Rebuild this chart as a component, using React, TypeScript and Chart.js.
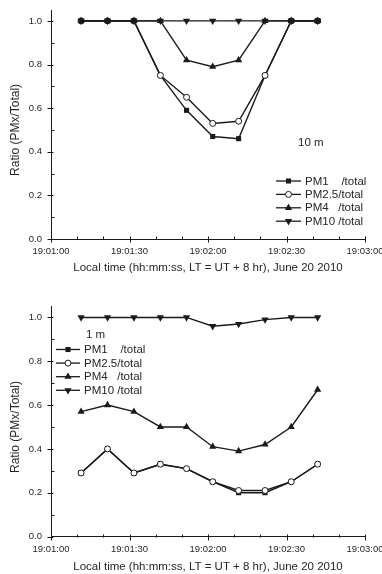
import React, { useEffect, useRef } from 'react';
import { Chart, registerables } from 'chart.js';

Chart.register(...registerables);

// ---------- data ----------
// seconds after 19:01:00 (local time)
const timeSec = [11.5, 21.6, 31.7, 41.8, 51.8, 61.8, 71.7, 81.8, 91.8, 101.9];
const seriesLabels = ['PM1    /total', 'PM2.5/total', 'PM4   /total', 'PM10 /total'];

// 10 m panel
const top_pm1 = [1.0, 1.0, 1.0, 0.75, 0.59, 0.47, 0.46, 0.75, 1.0, 1.0];
const top_pm25 = [1.0, 1.0, 1.0, 0.75, 0.65, 0.53, 0.54, 0.75, 1.0, 1.0];
const top_pm4 = [1.0, 1.0, 1.0, 1.0, 0.82, 0.79, 0.82, 1.0, 1.0, 1.0];
const top_pm10 = [1.0, 1.0, 1.0, 1.0, 1.0, 1.0, 1.0, 1.0, 1.0, 1.0];

// 1 m panel
const bot_pm1 = [0.29, 0.40, 0.29, 0.33, 0.31, 0.25, 0.20, 0.20, 0.25, 0.33];
const bot_pm25 = [0.29, 0.40, 0.29, 0.33, 0.31, 0.25, 0.21, 0.21, 0.25, 0.33];
const bot_pm4 = [0.57, 0.60, 0.57, 0.50, 0.50, 0.41, 0.39, 0.42, 0.50, 0.67];
const bot_pm10 = [1.0, 1.0, 1.0, 1.0, 1.0, 0.96, 0.97, 0.99, 1.0, 1.0];

const xTickValues = [0, 10, 20, 30, 40, 50, 60, 70, 80, 90, 100, 110, 120];
const xMajorStep = 30;
const yTickValues = [0, 0.1, 0.2, 0.3, 0.4, 0.5, 0.6, 0.7, 0.8, 0.9, 1.0];
const yMajorStep = 0.2;
const yTitle = 'Ratio (PMx/Total)';
const xTitle = 'Local time (hh:mm:ss, LT = UT + 8 hr), June 20 2010';
const topNote = '10 m';
const botNote = '1 m';

// ---------- styles ----------
const FONT = '"Liberation Sans", Arial, Helvetica, sans-serif';
const INK = '#1a1a1a';
const TEXT = '#262626';

const markerStyles = [
  { pointStyle: 'rect', pointRadius: 3.6, rotation: 0, fill: INK, borderWidth: 0 },
  { pointStyle: 'circle', pointRadius: 3, rotation: 0, fill: '#ffffff', borderWidth: 1 },
  { pointStyle: 'triangle', pointRadius: 4.2, rotation: 0, fill: INK, borderWidth: 0 },
  { pointStyle: 'triangle', pointRadius: 4.2, rotation: 180, fill: INK, borderWidth: 0 },
];
// lower order is drawn on top: PM10 on top, PM1 at the bottom
const drawOrder = [3, 2, 1, 0];

function fmtTime(v: number): string {
  const total = 19 * 3600 + 60 + Math.round(v);
  const h = Math.floor(total / 3600);
  const m = Math.floor((total % 3600) / 60);
  const s = total % 60;
  const p = (n: number) => String(n).padStart(2, '0');
  return `${p(h)}:${p(m)}:${p(s)}`;
}

function isMultiple(v: number, step: number) {
  const r = v / step;
  return Math.abs(r - Math.round(r)) < 1e-6;
}

function drawMarker(ctx: CanvasRenderingContext2D, ms: any, x: number, y: number) {
  const r = ms.pointRadius;
  ctx.beginPath();
  if (ms.pointStyle === 'rect') {
    const s = r * Math.SQRT1_2;
    ctx.rect(x - s, y - s, 2 * s, 2 * s);
  } else if (ms.pointStyle === 'circle') {
    ctx.arc(x, y, r, 0, Math.PI * 2);
  } else {
    let rad = (ms.rotation * Math.PI) / 180;
    ctx.moveTo(x + Math.sin(rad) * r, y - Math.cos(rad) * r);
    rad += (2 * Math.PI) / 3;
    ctx.lineTo(x + Math.sin(rad) * r, y - Math.cos(rad) * r);
    rad += (2 * Math.PI) / 3;
    ctx.lineTo(x + Math.sin(rad) * r, y - Math.cos(rad) * r);
    ctx.closePath();
  }
  ctx.fillStyle = ms.fill;
  ctx.fill();
  if (ms.borderWidth) {
    ctx.lineWidth = ms.borderWidth;
    ctx.strokeStyle = INK;
    ctx.stroke();
  }
}

const decorPlugin = {
  id: 'decor',
  afterDraw(chart: any, _args: any, opts: any) {
    const { ctx, chartArea } = chart;
    const xs = chart.scales.x;
    const ys = chart.scales.y;
    ctx.save();
    ctx.strokeStyle = INK;
    ctx.lineWidth = 1;
    // x ticks: major ticks cross the axis, minor ticks point inward
    const yb = Math.round(chartArea.bottom) + 0.5;
    for (const v of xTickValues) {
      const px = Math.round(xs.getPixelForValue(v)) + 0.5;
      const major = isMultiple(v, xMajorStep);
      ctx.beginPath();
      ctx.moveTo(px, yb + (major ? 3 : 0));
      ctx.lineTo(px, yb - 3);
      ctx.stroke();
    }
    // y ticks
    const xl = Math.round(chartArea.left) + 0.5;
    for (const v of yTickValues) {
      const py = Math.round(ys.getPixelForValue(v)) + 0.5;
      const major = isMultiple(v, yMajorStep);
      ctx.beginPath();
      ctx.moveTo(xl - (major ? 4 : 0), py);
      ctx.lineTo(xl + (major ? 2 : 3), py);
      ctx.stroke();
    }
    // y title
    ctx.save();
    ctx.translate(opts.yTitleX, ys.getPixelForValue(0.5));
    ctx.rotate(-Math.PI / 2);
    ctx.fillStyle = TEXT;
    ctx.font = `12px ${FONT}`;
    ctx.textAlign = 'center';
    ctx.textBaseline = 'middle';
    ctx.fillText(yTitle, 0, 0);
    ctx.restore();
    // legend
    const lg = opts.legend;
    ctx.font = `11.5px ${FONT}`;
    ctx.textBaseline = 'middle';
    ctx.textAlign = 'left';
    chart.data.datasets.forEach((ds: any, i: number) => {
      const y = lg.y + i * lg.rowH;
      ctx.strokeStyle = INK;
      ctx.lineWidth = 1.3;
      ctx.beginPath();
      ctx.moveTo(lg.x, y);
      ctx.lineTo(lg.x + lg.lineLen, y);
      ctx.stroke();
      drawMarker(ctx, markerStyles[i], lg.x + lg.lineLen / 2, y);
      ctx.fillStyle = TEXT;
      ctx.fillText(ds.label, lg.x + lg.lineLen + lg.gap, y + 0.5);
    });
    // note
    ctx.font = `11.5px ${FONT}`;
    ctx.fillStyle = TEXT;
    ctx.textAlign = 'left';
    ctx.fillText(opts.note.text, opts.note.x, opts.note.y);
    ctx.restore();
  },
};

type PanelProps = {
  series: number[][];
  height: number;
  areaTop: number;
  axisBox: number;
  xTitlePad: number;
  legend: any;
  note: any;
};

function Panel({ series, height, areaTop, axisBox, xTitlePad, legend, note }: PanelProps) {
  const ref = useRef<HTMLCanvasElement | null>(null);
  useEffect(() => {
    const canvas = ref.current;
    if (!canvas) return;
    const datasets = series.map((vals, i) => {
      const ms = markerStyles[i];
      return {
        label: seriesLabels[i],
        data: vals.map((v, k) => ({ x: timeSec[k], y: v })),
        borderColor: INK,
        borderWidth: 1.4,
        backgroundColor: ms.fill,
        pointBackgroundColor: ms.fill,
        pointBorderColor: INK,
        pointBorderWidth: ms.borderWidth,
        pointStyle: ms.pointStyle,
        pointRadius: ms.pointRadius,
        pointRotation: ms.rotation,
        pointHoverRadius: ms.pointRadius,
        tension: 0,
        fill: false,
        order: drawOrder[i],
        clip: false,
      };
    });
    const chart = new Chart(canvas, {
      type: 'line',
      data: { datasets } as any,
      plugins: [decorPlugin as any],
      options: {
        animation: false,
        responsive: false,
        devicePixelRatio: 1,
        events: [],
        layout: { padding: { left: 0, right: 17, top: areaTop, bottom: 0 } },
        plugins: {
          legend: { display: false },
          tooltip: { enabled: false },
          decor: { legend, note, yTitleX: 16 },
        } as any,
        scales: {
          x: {
            type: 'linear',
            min: 0,
            max: 120,
            afterBuildTicks: (s: any) => {
              s.ticks = xTickValues.map((v) => ({ value: v }));
            },
            afterFit: (s: any) => {
              s.height = axisBox;
              s.paddingLeft = 0;
              s.paddingRight = 0;
            },
            grid: { display: false, drawTicks: false, tickLength: 0 },
            border: { display: true, color: INK, width: 1 },
            ticks: {
              autoSkip: false,
              maxRotation: 0,
              minRotation: 0,
              padding: 7,
              color: TEXT,
              font: { family: FONT, size: 9.5 },
              callback: (v: any) => (isMultiple(Number(v), xMajorStep) ? fmtTime(Number(v)) : ''),
            },
            title: {
              display: true,
              text: xTitle,
              color: TEXT,
              font: { family: FONT, size: 11.5 },
              padding: { top: 0, bottom: xTitlePad },
            },
          },
          y: {
            type: 'linear',
            min: 0,
            max: 1.05,
            afterBuildTicks: (s: any) => {
              s.ticks = yTickValues.map((v) => ({ value: v }));
            },
            afterFit: (s: any) => {
              s.width = 51;
              s.paddingTop = 0;
              s.paddingBottom = 0;
            },
            grid: { display: false, drawTicks: false, tickLength: 0 },
            border: { display: true, color: INK, width: 1 },
            ticks: {
              autoSkip: false,
              padding: 9,
              color: TEXT,
              font: { family: FONT, size: 9.5 },
              callback: (v: any) => (isMultiple(Number(v), yMajorStep) ? Number(v).toFixed(1) : ''),
            },
          },
        },
      } as any,
    });
    return () => chart.destroy();
  }, []);
  return <canvas ref={ref} width={382} height={height} style={{ display: 'block', width: 382, height }} />;
}

export default function App() {
  return (
    <div style={{ position: 'fixed', left: 0, top: 0, width: 382, height: 574, background: '#fff', overflow: 'hidden' }}>
      <Panel
        series={[top_pm1, top_pm25, top_pm4, top_pm10]}
        height={290}
        areaTop={10}
        axisBox={51}
        xTitlePad={15}
        legend={{ x: 276, y: 181, rowH: 13.4, lineLen: 25, gap: 4 }}
        note={{ text: topNote, x: 298, y: 143 }}
      />
      <Panel
        series={[bot_pm1, bot_pm25, bot_pm4, bot_pm10]}
        height={284}
        areaTop={16.5}
        axisBox={37.5}
        xTitlePad={0.5}
        legend={{ x: 56, y: 349.5 - 290, rowH: 13.6, lineLen: 24, gap: 4 }}
        note={{ text: botNote, x: 86, y: 335 - 290 }}
      />
    </div>
  );
}
